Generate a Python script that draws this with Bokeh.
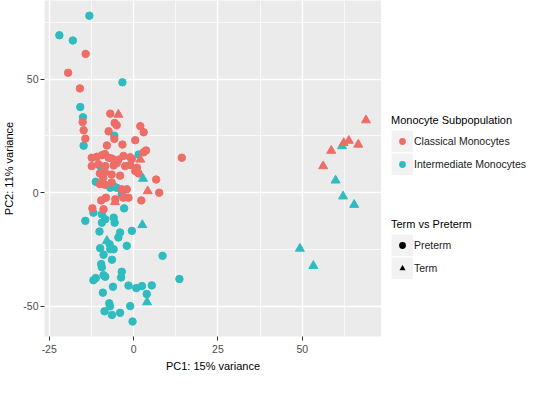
from bokeh.plotting import figure
from bokeh.layouts import row
from bokeh.models import Range1d, FixedTicker, Legend, LegendItem
from bokeh.embed import file_html
from bokeh.resources import INLINE

# ---- data ----
# Classical Monocytes, Preterm
cp_x = [-14.2, -19.4, -15.9, -15.1, -14.8, -14.3, -6.9, -5.6, -5.0, -7.4, -5.7,
        2.0, 3.0, 0.5, -7.9, -3.3, 3.7, 3.0, 14.3,
        -12.4, -10.9, -9.4, -7.4, -6.4, -4.5, -1.0, -0.5, -8.5, -3.0,
        -12.4, -10.4, -8.4, -5.9, -5.0, -2.5, -1.0, 1.0,
        -10.0, -8.5, -6.5, -9.0, -4.0, 0.5, 1.5,
        -10.0, -8.5, -6.5,
        -3.5, -2.0, 7.6, 6.7, -3.0, -1.5, -9.6, -8.2, -5.4, 2.3, -12.2, -8.9]
cp_y = [61.1, 52.8, 45.9, 31.1, 27.5, 23.8, 34.8, 30.7, 29.7, 27.0, 23.7,
        29.3, 26.6, 23.1, 20.8, 21.2, 18.6, 17.8, 15.4,
        15.4, 15.8, 16.5, 15.4, 15.0, 14.5, 15.6, 14.8, 17.0, 16.2,
        11.7, 12.5, 11.7, 12.0, 13.0, 11.7, 12.2, 11.0,
        8.5, 9.0, 8.0, 6.5, 7.5, 9.5, 8.5,
        3.8, 3.5, 4.5,
        1.5, 1.5, 0.0, 5.8, -2.2, -2.2, -3.4, -2.2, -2.9, -3.4, -6.9, -7.3]

# Classical Monocytes, Term
ct_x = [-4.5, 2.0, 4.2, -5.5, 68.9, 63.8, 62.3, 66.6, 58.6, 56.2]
ct_y = [34.4, 14.6, 0.7, -4.1, 31.9, 22.9, 21.9, 21.2, 18.5, 11.7]

# Intermediate Monocytes, Preterm
ip_x = [-13.1, -22.0, -18.0, -3.3, -15.8, -15.0, -14.8, -5.7, 1.5, -9.9, -11.2,
        -6.9, -5.9, -5.0, -3.5, -2.8,
        -11.9, -9.4, -14.3, -8.4, -9.4, -5.9, -5.6, -0.5, -10.1, -4.0, -4.5,
        -2.0, -9.9, -6.9, -5.9, -7.1, -8.9, -6.4, 8.6, -9.6, -9.4, -3.5, -3.7,
        -8.9, -8.4, -11.9, -11.2, 13.6, -6.1, -1.5, 0.8, 2.5, 5.4, -9.1, 3.9,
        -7.2, -7.0, -1.0, -8.6, -6.4, -4.0, -0.3]
ip_y = [77.9, 69.3, 67.0, 48.6, 37.7, 33.2, 20.7, 25.1, 16.8, 11.7, 4.8,
        2.2, 2.8, 2.2, -0.7, -6.9,
        -8.8, -9.5, -12.4, -11.7, -13.2, -11.0, -13.2, -16.8, -17.1, -17.5, -19.7,
        -23.4, -24.4, -24.9, -24.9, -22.7, -27.3, -29.5, -27.8, -31.4, -32.8, -34.8, -37.3,
        -36.3, -37.0, -38.5, -37.6, -38.0, -41.4, -40.9, -42.0, -41.1, -40.8, -44.0, -44.6,
        -48.7, -50.0, -49.9, -52.2, -53.8, -52.9, -56.7]

# Intermediate Monocytes, Term
it_x = [2.8, 2.6, -7.9, 4.0, 61.8, 59.9, 62.1, 65.4, 49.3, 53.3]
it_y = [6.2, -14.2, -21.2, -48.2, 20.5, 5.4, -1.6, -5.3, -24.6, -32.2]

x_ticks = [-25, 0, 25, 50]
x_tick_labels = ["-25", "0", "25", "50"]
x_minor = [-12.5, 12.5, 37.5, 62.5]
y_ticks = [-50, 0, 50]
y_tick_labels = ["-50", "0", "50"]
y_minor = [-25, 25, 75]

subpop_labels = ["Classical Monocytes", "Intermediate Monocytes"]
term_labels = ["Preterm", "Term"]

RED = "#EE6E67"
TEAL = "#2EBCC1"
KEY_BG = "#F2F2F2"
FONT = "Liberation Sans"

p = figure(frame_width=337, frame_height=336,
           min_border_left=38, min_border_right=0,
           min_border_top=0, min_border_bottom=43,
           x_range=Range1d(-26.4, 73.5), y_range=Range1d(-63.3, 84.6),
           output_backend="svg", toolbar_location=None)

p.background_fill_color = "#EBEBEB"
p.border_fill_color = "white"
p.outline_line_color = None

p.xaxis.ticker = FixedTicker(ticks=x_ticks, minor_ticks=x_minor)
p.yaxis.ticker = FixedTicker(ticks=y_ticks, minor_ticks=y_minor)
p.xaxis.major_label_overrides = dict(zip(x_ticks, x_tick_labels))
p.yaxis.major_label_overrides = dict(zip(y_ticks, y_tick_labels))

for g in (p.xgrid, p.ygrid):
    g.grid_line_color = "white"
    g.grid_line_width = 1.4
    g.minor_grid_line_color = "white"
    g.minor_grid_line_width = 0.7

for ax in (p.xaxis, p.yaxis):
    ax.axis_line_color = None
    ax.major_tick_line_color = "#333333"
    ax.major_tick_out = 4
    ax.major_tick_in = 0
    ax.minor_tick_out = 0
    ax.minor_tick_in = 0
    ax.minor_tick_line_color = None
    ax.major_label_text_color = "#4D4D4D"
    ax.major_label_text_font_size = "10.5px"
    ax.major_label_text_font = FONT
    ax.axis_label_text_font = FONT
    ax.axis_label_text_font_size = "11px"
    ax.axis_label_text_font_style = "normal"
    ax.axis_label_text_color = "black"

p.xaxis.axis_label = "PC1: 15% variance"
p.yaxis.axis_label = "PC2: 11% variance"
p.xaxis.major_label_standoff = 4
p.xaxis.axis_label_standoff = 4
p.yaxis.major_label_standoff = 2
p.yaxis.axis_label_standoff = 5

p.scatter(ip_x, ip_y, marker="circle", size=7.5, fill_color=TEAL, line_color=TEAL)
p.scatter(cp_x, cp_y, marker="circle", size=7.5, fill_color=RED, line_color=RED)
p.scatter(it_x, it_y, marker="triangle", size=9, fill_color=TEAL, line_color=TEAL)
p.scatter(ct_x, ct_y, marker="triangle", size=9, fill_color=RED, line_color=RED)

# ---- legend panel: separate figure whose view range lies beyond all data,
# so the key proxies only appear in the legend ----
x_max = max(cp_x + ct_x + ip_x + it_x)
lf = figure(width=152, height=379, min_border=0,
            x_range=Range1d(x_max + 100, x_max + 101), y_range=Range1d(0, 1),
            x_axis_type=None, y_axis_type=None,
            output_backend="svg", toolbar_location=None)
lf.outline_line_color = None
lf.background_fill_color = "white"
lf.border_fill_color = "white"
lf.grid.visible = False

key_bg = lf.line(cp_x, cp_y, line_color=KEY_BG, line_width=22)
# a key-coloured outline trims the legend markers to ggplot's smaller key size
k_red = lf.scatter(cp_x, cp_y, marker="circle", fill_color=RED, line_color=KEY_BG, line_width=2)
k_teal = lf.scatter(ip_x, ip_y, marker="circle", fill_color=TEAL, line_color=KEY_BG, line_width=2)
k_blk_c = lf.scatter(cp_x, cp_y, marker="circle", fill_color="black", line_color=KEY_BG, line_width=2)
k_blk_t = lf.scatter(ct_x, ct_y, marker="triangle", fill_color="black", line_color=KEY_BG, line_width=1.5)


def style(leg):
    leg.title_text_font = FONT
    leg.title_text_font_size = "11px"
    leg.title_text_font_style = "normal"
    leg.title_text_color = "black"
    leg.title_standoff = 4
    leg.label_text_font = FONT
    leg.label_text_font_size = "10.5px"
    leg.label_text_color = "#1A1A1A"
    leg.glyph_width = 22
    leg.glyph_height = 22
    leg.label_height = 22
    leg.label_standoff = 1
    leg.spacing = 1
    leg.padding = 0
    leg.margin = 0
    leg.border_line_color = None
    leg.background_fill_alpha = 0


leg1 = Legend(title="Monocyte Subpopulation", location=(10, 161),
              items=[LegendItem(label=subpop_labels[0], renderers=[key_bg, k_red]),
                     LegendItem(label=subpop_labels[1], renderers=[key_bg, k_teal])])
leg2 = Legend(title="Term vs Preterm", location=(10, 57),
              items=[LegendItem(label=term_labels[0], renderers=[key_bg, k_blk_c]),
                     LegendItem(label=term_labels[1], renderers=[key_bg, k_blk_t])])
style(leg1)
style(leg2)
lf.add_layout(leg1, "center")
lf.add_layout(leg2, "center")

layout = row(p, lf, spacing=0)
open("out.html", "w").write(file_html(layout, INLINE))
